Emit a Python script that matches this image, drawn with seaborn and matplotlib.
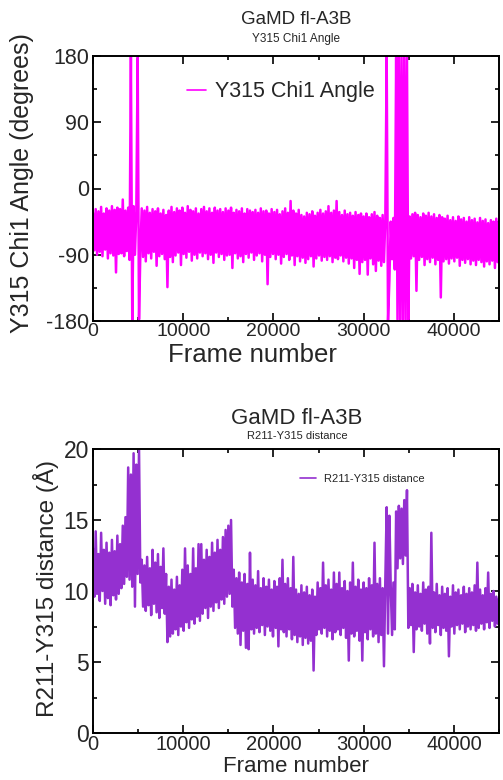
import numpy as np
import pandas as pd
import matplotlib
matplotlib.use("Agg")
import matplotlib.pyplot as plt
from matplotlib.ticker import MultipleLocator
import seaborn as sns

# ---------------- data ----------------
frame_step = 150  # frames between samples

# Y315 Chi1 angle (degrees), one value every 150 frames, 0 .. 45000
chi1_angle = [
    -33, -84, -28, -90, -31, -86, -25, -92, -34, -83, -27, -95, -30, -88, -24, -91, -29, -114, -26, -89,      # 0
    -28, -88, -15, -92, -30, -85, -26, -97, 179, -179, -24, -90, -32, 178, -178, -86, -27, -93, -30, -99,    # 3000
    -25, -88, -33, -95, -28, -86, -31, -105, -27, -92, -34, -89, -29, -96, -36, -134, -30, -93, -25, -100,   # 6000
    -32, -91, -27, -87, -30, -104, -26, -89, -33, -94, -24, -86, -29, -98, -31, -90, -27, -95, -34, -87,     # 9000
    -28, -92, -25, -88, -31, -96, -27, -90, -33, -101, -26, -87, -30, -93, -28, -89, -32, -97, -27, -91,     # 12000
    -30, -90, -26, -108, -33, -88, -29, -95, -31, -92, -27, -100, -34, -89, -28, -94, -30, -87, -32, -97,    # 15000
    -29, -91, -33, -88, -27, -99, -31, -90, -30, -130, -34, -93, -28, -89, -32, -96, -29, -90, -35, -102,    # 18000
    -31, -93, -27, -89, -33, -97, -17, -91, -30, -104, -34, -92, -29, -99, -36, -94, -38, -101, -33, -96,    # 21000
    -35, -92, -31, -106, -37, -95, -33, -91, -29, -98, -34, -93, -31, -97, -24, -92, -33, -100, -30, -94,    # 24000
    -17, -96, -32, -91, -36, -99, -30, -94, -35, -102, -33, -95, -37, -108, -32, -97, -36, -116, -34, -100,  # 27000
    -38, -97, -34, -117, -39, -95, -35, -103, -32, -112, -37, -98, -40, -105, -36, -100, -42, 179, -179, -125,  # 30000
    -45, -96, -40, -110, 178, -178, 179, -179, 178, -178, 179, -179, 178, -178, -38, -95, -35, -92, -33, -139,  # 33000
    -36, -97, -39, -93, -34, -104, -37, -96, -33, -100, -38, -94, -35, -103, -40, -97, -36, -148, -39, -99,   # 36000
    -41, -96, -37, -102, -43, -95, -39, -99, -44, -94, -38, -105, -42, -97, -40, -101, -45, -96, -39, -103,  # 39000
    -43, -98, -41, -104, -46, -97, -40, -100, -44, -106, -42, -99, -47, -103, -43, -98, -45, -108, -41, -100,  # 42000
    -44,                                                                                                   # 45000
]

# R211-Y315 distance (Angstrom), one value every 150 frames, 0 .. 45000
r211_y315_dist = [
    13.0, 9.6, 14.2, 9.8, 12.6, 9.3, 14.1, 10.0, 12.9, 9.1, 13.4, 9.5, 12.7, 9.0, 13.6, 9.7, 12.8, 9.4, 13.9, 9.8,      # 0
    13.3, 10.2, 14.6, 10.5, 15.2, 11.0, 18.7, 10.8, 18.2, 10.3, 19.7, 8.9, 18.9, 11.2, 20.0, 10.6, 12.2, 8.9, 11.8, 8.6,  # 3000
    12.4, 9.0, 11.6, 8.3, 12.9, 9.1, 12.0, 8.5, 12.6, 8.1, 11.7, 8.8, 13.0, 8.4, 11.2, 6.4, 10.3, 6.8, 10.8, 7.0,        # 6000
    10.1, 7.3, 11.0, 6.9, 10.4, 7.5, 11.5, 7.2, 13.0, 7.8, 11.8, 7.4, 11.2, 8.0, 13.0, 7.7, 11.6, 8.2, 13.3, 7.9,        # 9000
    13.3, 8.4, 12.2, 8.8, 12.9, 8.1, 12.4, 8.9, 13.4, 8.6, 12.7, 9.2, 13.6, 8.8, 12.9, 9.4, 13.8, 9.1, 14.3, 9.6,        # 12000
    14.6, 9.8, 15.0, 8.9, 11.5, 7.4, 10.9, 7.0, 11.3, 6.2, 10.6, 7.2, 11.2, 6.0, 10.5, 5.9, 12.7, 7.3, 10.8, 7.0,        # 15000
    10.4, 7.4, 11.4, 7.1, 10.2, 7.6, 10.9, 6.9, 10.3, 7.5, 10.8, 7.2, 10.1, 6.8, 10.7, 7.4, 10.3, 6.1, 10.9, 7.3,        # 18000
    12.2, 7.1, 10.5, 6.8, 10.9, 7.3, 10.2, 6.6, 12.4, 6.9, 10.1, 6.4, 9.8, 6.8, 10.4, 6.2, 9.9, 6.7, 10.3, 6.3,          # 21000
    9.7, 6.5, 10.1, 4.4, 9.6, 6.9, 10.6, 7.3, 10.2, 7.0, 12.0, 7.4, 10.4, 6.8, 10.8, 7.2, 10.1, 6.6, 11.3, 7.1,          # 24000
    10.5, 7.3, 11.3, 6.9, 10.2, 7.4, 10.7, 6.7, 10.0, 5.1, 10.6, 7.0, 12.0, 6.8, 10.3, 7.2, 10.8, 6.5, 10.1, 5.1,        # 27000
    10.6, 7.1, 10.2, 6.6, 10.9, 7.3, 10.4, 6.8, 13.4, 7.0, 10.5, 6.4, 10.9, 6.9, 10.2, 4.7, 10.7, 15.9, 7.0, 15.3,       # 30000
    10.3, 6.9, 10.6, 7.3, 15.6, 11.6, 16.0, 12.3, 15.8, 11.9, 16.4, 12.5, 17.1, 7.4, 10.2, 7.6, 10.5, 5.7, 9.9, 7.3,     # 33000
    10.4, 7.5, 9.8, 7.2, 10.6, 7.7, 10.1, 7.0, 10.3, 6.3, 14.1, 7.4, 9.9, 7.1, 10.5, 7.6, 9.7, 6.9, 10.3, 7.4,           # 36000
    9.8, 7.2, 10.2, 5.4, 9.6, 7.5, 10.4, 7.0, 9.9, 7.6, 10.1, 7.3, 9.7, 7.7, 10.3, 7.1, 9.8, 7.5, 10.2, 7.3,             # 39000
    9.9, 7.6, 10.4, 7.2, 12.0, 7.4, 10.1, 7.7, 9.7, 7.3, 10.2, 7.8, 11.3, 7.4, 9.8, 7.9, 10.0, 7.5, 9.6, 7.7,            # 42000
    9.5,                                                                                                              # 45000
]

title_main = "GaMD fl-A3B"
sub_chi = "Y315 Chi1 Angle"
sub_dist = "R211-Y315 distance"
chi_ticks = [-180, -90, 0, 90, 180]
dist_ticks = [0, 5, 10, 15, 20]
x_ticks = [0, 10000, 20000, 30000, 40000]

# ---------------- build tables ----------------
df_chi = pd.DataFrame({"frame": np.arange(len(chi1_angle)) * frame_step,
                       "value": chi1_angle})
df_dist = pd.DataFrame({"frame": np.arange(len(r211_y315_dist)) * frame_step,
                        "value": r211_y315_dist})

sns.set_style("ticks")
plt.rcParams["font.family"] = ["Liberation Sans", "DejaVu Sans"]
plt.rcParams["axes.unicode_minus"] = False

W, H = 503, 780
fig = plt.figure(figsize=(W / 100, H / 100), dpi=100)

def frac_axes(left, top, right, bottom):
    return fig.add_axes([left / W, 1 - bottom / H, (right - left) / W, (bottom - top) / H])

ax1 = frac_axes(93, 56, 499, 321)
ax2 = frac_axes(93, 449, 499, 733)

magenta = "#ff00ff"
purple = "#9430d0"

sns.lineplot(data=df_chi, x="frame", y="value", ax=ax1, color=magenta, linewidth=1.8,
             estimator=None, sort=False, label=sub_chi, legend=False)
sns.lineplot(data=df_dist, x="frame", y="value", ax=ax2, color=purple, linewidth=1.8,
             estimator=None, sort=False, label=sub_dist, legend=False)

def style_axes(ax, yticks, yminor, tick_fs_x, tick_fs_y):
    ax.set_xlim(0, 45000)
    ax.set_ylim(yticks[0], yticks[-1])
    ax.set_xticks(x_ticks)
    ax.set_yticks(yticks)
    ax.xaxis.set_minor_locator(MultipleLocator(5000))
    ax.yaxis.set_minor_locator(MultipleLocator(yminor))
    for s in ax.spines.values():
        s.set_visible(True)
        s.set_linewidth(1.4)
        s.set_color("black")
    ax.tick_params(which="both", direction="in", top=True, right=True, width=1.2, color="black")
    ax.tick_params(which="major", length=6)
    ax.tick_params(which="minor", length=3)
    ax.tick_params(axis="x", labelsize=tick_fs_x, pad=1.5)
    ax.tick_params(axis="y", labelsize=tick_fs_y, pad=3)

style_axes(ax1, chi_ticks, 45, 14, 15.5)
style_axes(ax2, dist_ticks, 2.5, 14.5, 16.5)

ax1.set_xlabel("Frame number", fontsize=18.5)
ax1.xaxis.set_label_coords((252 - 93) / 406, -(355 - 321) / 265)
ax1.set_ylabel("Y315 Chi1 Angle (degrees)", fontsize=18)
ax1.yaxis.set_label_coords((22 - 93) / 406, 0.52)
ax2.set_xlabel("Frame number", fontsize=16)
ax2.xaxis.set_label_coords(0.5, -(766 - 733) / 284)
ax2.set_ylabel("R211-Y315 distance (Å)", fontsize=17.5)
ax2.yaxis.set_label_coords((46 - 93) / 406, 0.51)
for lab in (ax1.xaxis.label, ax2.xaxis.label, ax1.yaxis.label, ax2.yaxis.label):
    lab.set_va("center")

fig.text(296 / W, 1 - 20 / H, title_main, ha="center", va="center", fontsize=13.5)
fig.text(296 / W, 1 - 39 / H, sub_chi, ha="center", va="center", fontsize=8.5)
fig.text(297 / W, 1 - 418 / H, title_main, ha="center", va="center", fontsize=16)
fig.text(297 / W, 1 - 436 / H, sub_dist, ha="center", va="center", fontsize=8)

leg1 = ax1.legend(loc="center left", bbox_to_anchor=((187 - 93) / 406, 1 - (92 - 56) / 265),
                  frameon=False, fontsize=15.5, handlelength=0.9, handletextpad=0.4,
                  borderpad=0, borderaxespad=0)
leg2 = ax2.legend(loc="center left", bbox_to_anchor=((300 - 93) / 406, 1 - (479 - 449) / 284),
                  frameon=False, fontsize=8, handlelength=1.4, handletextpad=0.8,
                  borderpad=0, borderaxespad=0)
for lg in (leg1, leg2):
    for ln in lg.get_lines():
        ln.set_linewidth(1.2)

fig.savefig("out.png", dpi=100)
